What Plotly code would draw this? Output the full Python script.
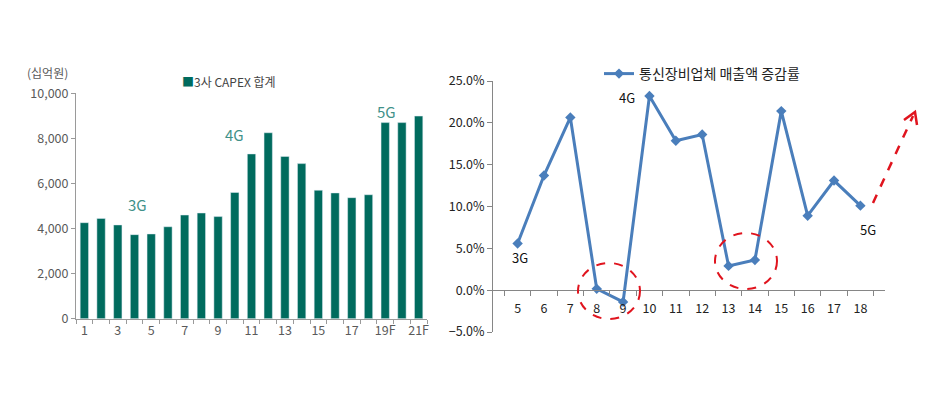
import plotly.graph_objects as go

W, H = 947, 404
OFF = 8  # page body margin

# ---- data ----
capex_categories = [str(i) for i in range(1, 19)] + ["19F", "20F", "21F"]
capex_tick_labels = [c if i % 2 == 0 else "" for i, c in enumerate(capex_categories)]
capex_values = [4260, 4450, 4160, 3730, 3760, 4080, 4600, 4690, 4530, 5600,
                7310, 8250, 7200, 6880, 5700, 5580, 5370, 5500, 8700, 8700, 8990]

growth_categories = [str(i) for i in range(5, 19)]
growth_values = [0.0558, 0.137, 0.2065, 0.0016, -0.014, 0.232, 0.1786, 0.186,
                 0.029, 0.036, 0.214, 0.089, 0.131, 0.101]

def px(x):
    return (x - OFF) / W

def py(y):
    return 1 - (y - OFF) / H

KR = "Noto Sans CJK KR"
TEAL = "#006b5e"
BLUE = "#4a7ebb"
RED = "#e0141e"

fig = go.Figure()

fig.add_trace(go.Bar(
    x=capex_categories, y=capex_values, marker_color=TEAL, width=0.5,
    xaxis="x", yaxis="y", showlegend=False,
))

fig.add_trace(go.Scatter(
    x=growth_categories, y=growth_values, mode="lines+markers",
    line=dict(color=BLUE, width=3), marker=dict(symbol="diamond", size=8, color=BLUE),
    xaxis="x2", yaxis="y2", name="통신장비업체 매출액 증감률", showlegend=True,
))

fig.update_layout(
    width=W, height=H,
    margin=dict(l=0, r=0, t=0, b=0, autoexpand=False),
    paper_bgcolor="white", plot_bgcolor="rgba(0,0,0,0)",
    font=dict(family=KR, size=12, color="#333333"),
    bargap=0.5,
    xaxis=dict(
        domain=[px(76), px(427)], anchor="y", type="category", automargin=False,
        tickmode="array", tickvals=capex_categories, ticktext=capex_tick_labels,
        tickangle=0,
        tickson="boundaries", ticks="outside", ticklen=4, tickcolor="#9a9a9a",
        showline=True, linecolor="#9a9a9a", linewidth=1,
        showgrid=False, zeroline=False,
        tickfont=dict(family=KR, size=12.5, color="#5a5a5a"),
    ),
    yaxis=dict(
        domain=[py(318.7), py(93.3)], anchor="x", range=[0, 10000], automargin=False,
        dtick=2000, tickformat=",d", ticks="outside", ticklen=4, tickcolor="#9a9a9a",
        showline=True, linecolor="#9a9a9a", linewidth=1,
        showgrid=False, zeroline=False,
        tickfont=dict(family=KR, size=12.5, color="#5a5a5a"),
    ),
    xaxis2=dict(
        domain=[px(493), px(885)], anchor="free", position=py(290), type="category",
        automargin=False, tickangle=0, ticklabelstandoff=7,
        tickson="boundaries", ticks="outside", ticklen=5, tickcolor="#868686",
        showline=True, linecolor="#868686", linewidth=1,
        showgrid=False, zeroline=False,
        tickfont=dict(family=KR, size=12.5, color="#222222"),
    ),
    yaxis2=dict(
        domain=[py(332), py(81)], anchor="x2", range=[-0.05, 0.25], automargin=False,
        dtick=0.05, tickformat=".1%", ticks="outside", ticklen=5, tickcolor="#868686",
        showline=True, linecolor="#868686", linewidth=1,
        showgrid=False, zeroline=False,
        tickfont=dict(family=KR, size=12.5, color="#222222"),
    ),
    legend=dict(
        x=px(599), y=py(74), xanchor="left", yanchor="middle",
        font=dict(family=KR, size=14, color="#222222"),
        bgcolor="rgba(0,0,0,0)", itemwidth=30,
    ),
)

annotations = [
    dict(x=px(47), y=py(72), text="(십억원)", font=dict(size=12, color="#5a5a5a")),
    dict(x=px(229), y=py(82), text="<span style='color:%s'>■</span>3사 CAPEX 합계" % TEAL,
         font=dict(size=12, color="#444444")),
    dict(x=px(137), y=py(204), text="3G", font=dict(size=15, color="#3f9189")),
    dict(x=px(234), y=py(134), text="4G", font=dict(size=15, color="#3f9189")),
    dict(x=px(386), y=py(111), text="5G", font=dict(size=15, color="#3f9189")),
    dict(x=px(520), y=py(257), text="3G", font=dict(size=13, color="#111111")),
    dict(x=px(627), y=py(98), text="4G", font=dict(size=13, color="#111111")),
    dict(x=px(868), y=py(229), text="5G", font=dict(size=13, color="#111111")),
]
for a in annotations:
    a.update(xref="paper", yref="paper", showarrow=False, xanchor="center", yanchor="middle")
    a["font"].setdefault("family", KR)
fig.update_layout(annotations=annotations)

shapes = [
    dict(type="circle", x0=px(578), x1=px(640), y0=py(319), y1=py(263)),
    dict(type="circle", x0=px(715), x1=px(777), y0=py(289), y1=py(233)),
    dict(type="line", x0=px(873), y0=py(203), x1=px(913), y1=py(116)),
    dict(type="path", path="M %f %f L %f %f L %f %f" % (
        px(904), py(120), px(915), py(112), px(917), py(125))),
]
for s in shapes:
    s.update(xref="paper", yref="paper",
             line=dict(color=RED, width=2.5 if s["type"] != "circle" else 2, dash="dash"
                       if s["type"] != "path" else "solid"))
fig.update_layout(shapes=shapes)

fig.write_html("out.html")
